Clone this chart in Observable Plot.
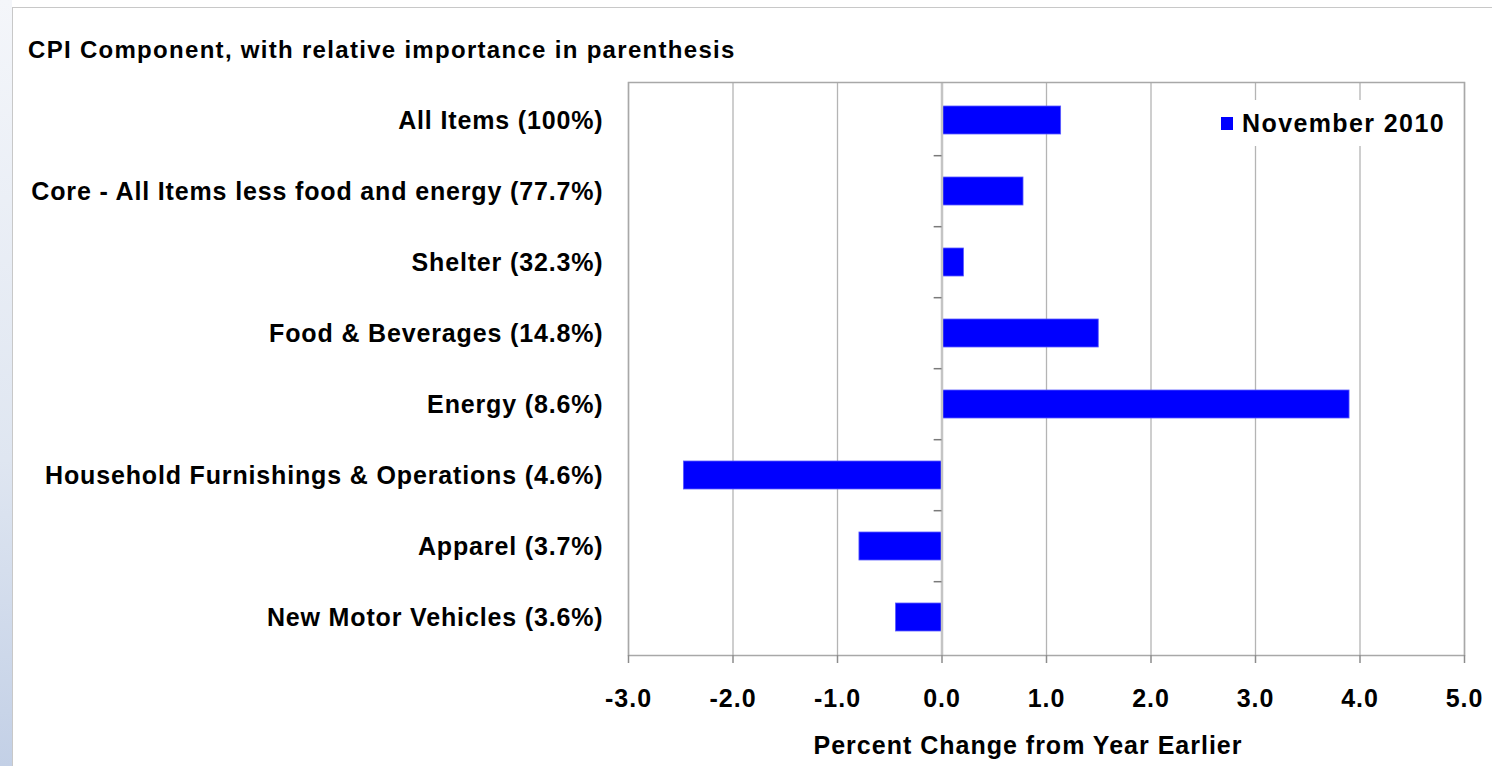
<!DOCTYPE html>
<html>
<head>
<meta charset="utf-8">
<script src="https://cdn.jsdelivr.net/npm/d3@7"></script>
<script src="https://cdn.jsdelivr.net/npm/@observablehq/plot@0.6"></script>
<style>
  html, body { margin: 0; padding: 0; background: #fff; }
  #wrap { position: relative; width: 1492px; height: 766px; overflow: hidden; font-family: "Liberation Sans", Arial, sans-serif; }
  #side { position: absolute; left: 0; top: 0; width: 12px; height: 766px; background: linear-gradient(to bottom, #f4f6fa, #dfe6f1 60%, #c3d0e6); }
  #panel { position: absolute; left: 12px; top: 7px; right: -2px; bottom: -2px; background: #fff; border-top: 1px solid #c8c8c8; border-left: 1px solid #c8c8c8; }
  #title { position: absolute; left: 28px; top: 36px; font-size: 24px; font-weight: bold; letter-spacing: 1.3px; color: #000; white-space: nowrap; }
  #chart { position: absolute; left: 0; top: 0; }
  #legend { position: absolute; left: 1208px; top: 100px; width: 248px; height: 46px; background: #fff; display: flex; align-items: center; }
  #legend .sw { width: 12px; height: 13px; background: #0000ff; margin-left: 13px; margin-right: 9px; }
  #legend span { font-size: 25px; font-weight: bold; letter-spacing: 1.4px; white-space: nowrap; }
  #xtitle { position: absolute; left: 0; width: 2056px; top: 731px; text-align: center; font-size: 25px; font-weight: bold; letter-spacing: 1px; }
</style>
</head>
<body>
<div id="wrap">
  <div id="side"></div>
  <div id="panel"></div>
  <div id="chart"></div>
  <div id="title">CPI Component, with relative importance in parenthesis</div>
  <div id="legend"><div class="sw"></div><span>November 2010</span></div>
  <div id="xtitle">Percent Change from Year Earlier</div>
</div>
<script>
// CPI components, top to bottom
let categories = [
  "All Items (100%)",
  "Core - All Items less food and energy (77.7%)",
  "Shelter (32.3%)",
  "Food & Beverages (14.8%)",
  "Energy (8.6%)",
  "Household Furnishings & Operations (4.6%)",
  "Apparel (3.7%)",
  "New Motor Vehicles (3.6%)"
];
let nov2010 = [1.14, 0.78, 0.21, 1.5, 3.9, -2.47, -0.79, -0.44]; // % change from year earlier
let xTicks = [-3, -2, -1, 0, 1, 2, 3, 4, 5];

const data = categories.map((c, i) => ({ cat: c, value: nov2010[i] }));

const W = 1492, H = 766;
const mTop = 82, mBottom = 111, mLeft = 628, mRight = 28;
const step = (H - mTop - mBottom) / categories.length; // band step in px

let chart = Plot.plot({
  width: W,
  height: H,
  marginTop: mTop,
  marginBottom: mBottom,
  marginLeft: mLeft,
  marginRight: mRight,
  x: { domain: [-3, 5], ticks: xTicks },
  y: { domain: categories, paddingInner: 0.6, paddingOuter: 0.3, label: null },
  style: { fontFamily: "Liberation Sans, Arial, sans-serif", background: "transparent", color: "#000" },
  marks: [
    Plot.gridX(xTicks, { stroke: "#b4b4b4", strokeOpacity: 1, strokeWidth: 1.3 }),
    Plot.barX(data, { x: "value", y: "cat", fill: "#0000ff", stroke: "#5a5aff", strokeWidth: 0.8 }),
    Plot.ruleX([0], { stroke: "#c4c4c4", strokeWidth: 2.5 }),
    // little ticks on the zero line between categories
    Plot.ruleY(categories.slice(1), { y: d => d, x1: -0.075, x2: 0, dy: -step / 2, stroke: "#7a7a7a", strokeWidth: 1.5 }),
    Plot.frame({ stroke: "#a8a8a8", strokeWidth: 1.5 }),
    Plot.ruleY([0], { frameAnchor: "bottom", stroke: "#8c8c8c", strokeWidth: 2 }),
    Plot.axisX(xTicks, {
      tickSize: 8,
      tickPadding: 26,
      stroke: "#8c8c8c",
      strokeWidth: 1.5,
      tickFormat: d => d.toFixed(1),
      fontSize: 25,
      fontWeight: "bold",
      label: null
    }),
    Plot.axisY({
      tickSize: 0,
      tickPadding: 25,
      fontSize: 25,
      fontWeight: "bold",
      label: null
    })
  ]
});

// wider lettering like the original
d3.select(chart).selectAll("g[aria-label='y-axis tick label'] text").style("letter-spacing", "0.85px");
d3.select(chart).selectAll("g[aria-label='x-axis tick label'] text").style("letter-spacing", "1px");
d3.select("#chart").append(() => chart);
</script>
</body>
</html>
